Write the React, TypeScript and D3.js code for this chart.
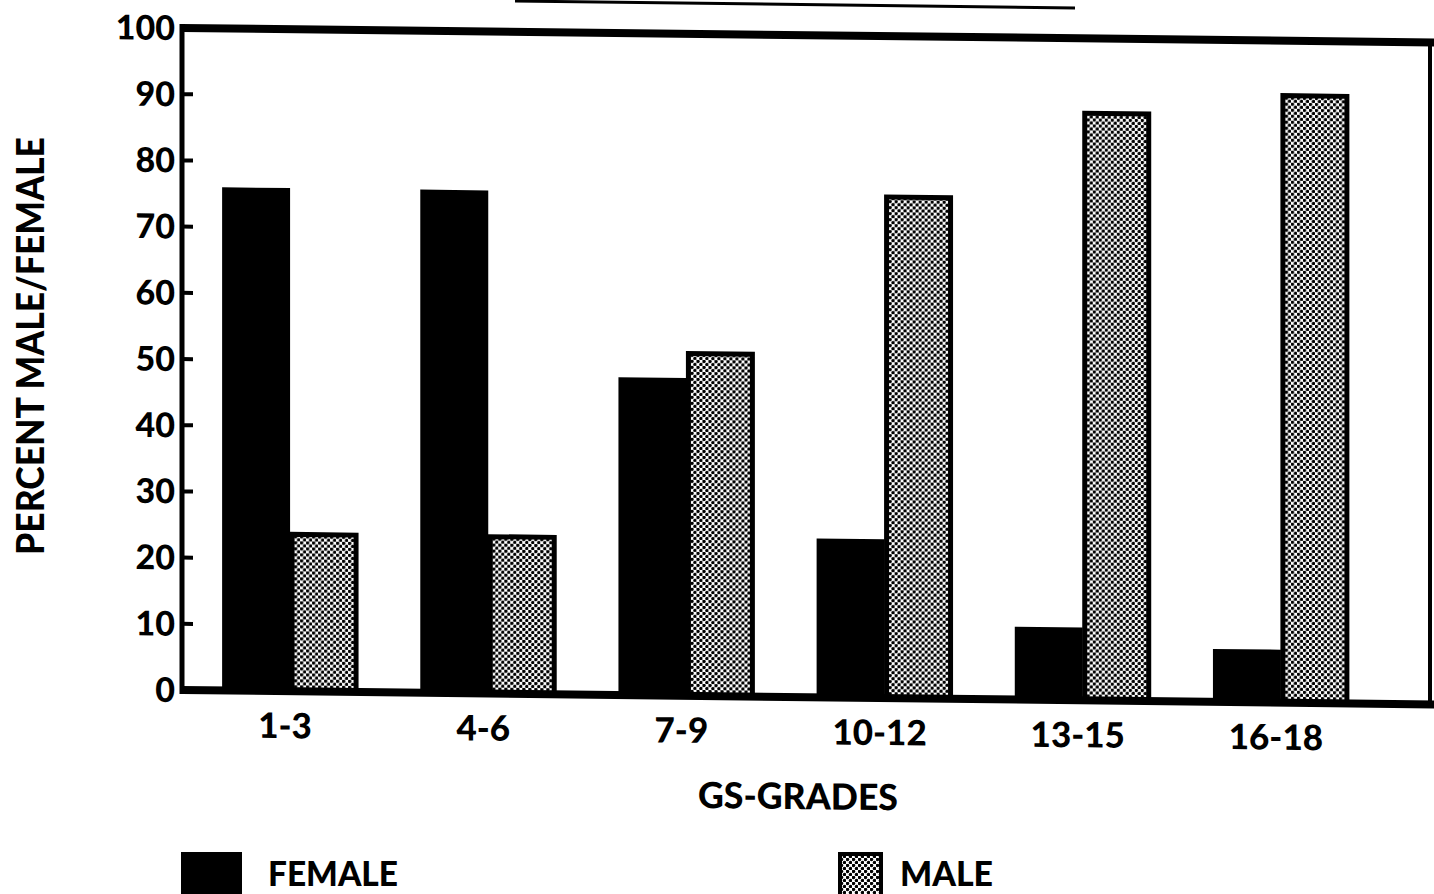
import React from "react";
import * as d3 from "d3";

const categories = ["1-3", "4-6", "7-9", "10-12", "13-15", "16-18"];
const femaleValues = [76, 76, 48, 24, 11, 8];
const maleValues = [24, 24, 52, 76, 89, 92];
const yTickValues = [0, 10, 20, 30, 40, 50, 60, 70, 80, 90, 100];
const seriesNames = ["FEMALE", "MALE"];

const W = 1434;
const H = 894;
const FONT = "Lato, 'Open Sans', 'DejaVu Sans', sans-serif";

export default function App() {
  const left = 182;
  const right = 1430;
  const y0 = 690;
  const yTop = 28;
  const k = 0.0115; // slight skew of the scanned page

  const y = d3.scaleLinear().domain([0, 100]).range([y0, yTop]);
  const x = d3
    .scaleBand<string>()
    .domain(categories)
    .range([191, 1380])
    .paddingInner(0.314)
    .paddingOuter(0.157);
  const x1 = d3
    .scaleBand<string>()
    .domain(seriesNames)
    .range([0, x.bandwidth()]);

  const rows = categories.map((c, i) => ({
    c,
    FEMALE: femaleValues[i],
    MALE: maleValues[i],
  }));

  return (
    <svg width={W} height={H} style={{ display: "block", position: "absolute", left: 0, top: 0, background: "#fff" }}>
      <defs>
        <pattern id="dots" width="6" height="6" patternUnits="userSpaceOnUse">
          <rect width="6" height="6" fill="#fff" />
          <circle cx="1.5" cy="1.5" r="1.75" fill="#000" />
          <circle cx="4.5" cy="4.5" r="1.75" fill="#000" />
        </pattern>
      </defs>
      <rect width={W} height={H} fill="#fff" />
      {/* remnant rule from the page above */}
      <path d="M515,1 L1075,8" stroke="#000" strokeWidth={3} fill="none" />

      <g transform={`matrix(1,${k},0,1,0,${-left * k})`}>
        {/* bars */}
        {rows.map((r) => (
          <g key={r.c} transform={`translate(${x(r.c)},0)`}>
            <rect
              x={x1("FEMALE")}
              y={y(r.FEMALE)}
              width={x1.bandwidth()}
              height={y0 - y(r.FEMALE)}
              fill="#000"
            />
            <rect
              x={(x1("MALE") as number) + 2}
              y={y(r.MALE) + 2}
              width={x1.bandwidth() - 4}
              height={y0 - y(r.MALE) - 2}
              fill="url(#dots)"
              stroke="#000"
              strokeWidth={5}
            />
          </g>
        ))}

        {/* frame */}
        <line x1={left} y1={yTop} x2={W + 20} y2={yTop} stroke="#000" strokeWidth={8} />
        <line x1={right} y1={yTop} x2={right} y2={y0} stroke="#000" strokeWidth={4} />
        <line x1={left} y1={y0} x2={W + 20} y2={y0} stroke="#000" strokeWidth={8} />
        <line x1={left} y1={yTop - 4} x2={left} y2={y0 + 4} stroke="#000" strokeWidth={5} />

        {/* y ticks */}
        {yTickValues.map((v) => (
          <g key={v}>
            {v > 0 && v < 100 && (
              <line x1={left} x2={left + 11} y1={y(v)} y2={y(v)} stroke="#000" strokeWidth={4} />
            )}
            <text
              x={175}
              y={y(v) + 12}
              textAnchor="end"
              fontFamily={FONT}
              fontWeight={900}
              fontSize={34}
              fill="#000"
            >
              {v}
            </text>
          </g>
        ))}

        {/* x labels */}
        {categories.map((c) => (
          <text
            key={c}
            x={(x(c) as number) + x.bandwidth() / 2 - 5}
            y={737}
            textAnchor="middle"
            fontFamily={FONT}
            fontWeight={900}
            fontSize={35}
            fill="#000"
          >
            {c}
          </text>
        ))}

        <text
          x={798}
          y={802}
          textAnchor="middle"
          fontFamily={FONT}
          fontWeight={900}
          fontSize={36}
          textLength={200}
          lengthAdjust="spacingAndGlyphs"
          fill="#000"
        >
          GS-GRADES
        </text>
      </g>

      {/* y title */}
      <text
        transform="translate(44,346) rotate(-90)"
        textAnchor="middle"
        fontFamily={FONT}
        fontWeight={900}
        fontSize={37}
        textLength={418}
        lengthAdjust="spacingAndGlyphs"
        fill="#000"
      >
        PERCENT MALE/FEMALE
      </text>

      {/* legend */}
      <rect x={181} y={852} width={61} height={50} fill="#000" />
      <text x={268} y={886} fontFamily={FONT} fontWeight={900} fontSize={35} textLength={130} lengthAdjust="spacingAndGlyphs" fill="#000">
        FEMALE
      </text>
      <rect x={840} y={854} width={41} height={48} fill="url(#dots)" stroke="#000" strokeWidth={4} />
      <text x={900} y={886} fontFamily={FONT} fontWeight={900} fontSize={35} textLength={93} lengthAdjust="spacingAndGlyphs" fill="#000">
        MALE
      </text>
    </svg>
  );
}
